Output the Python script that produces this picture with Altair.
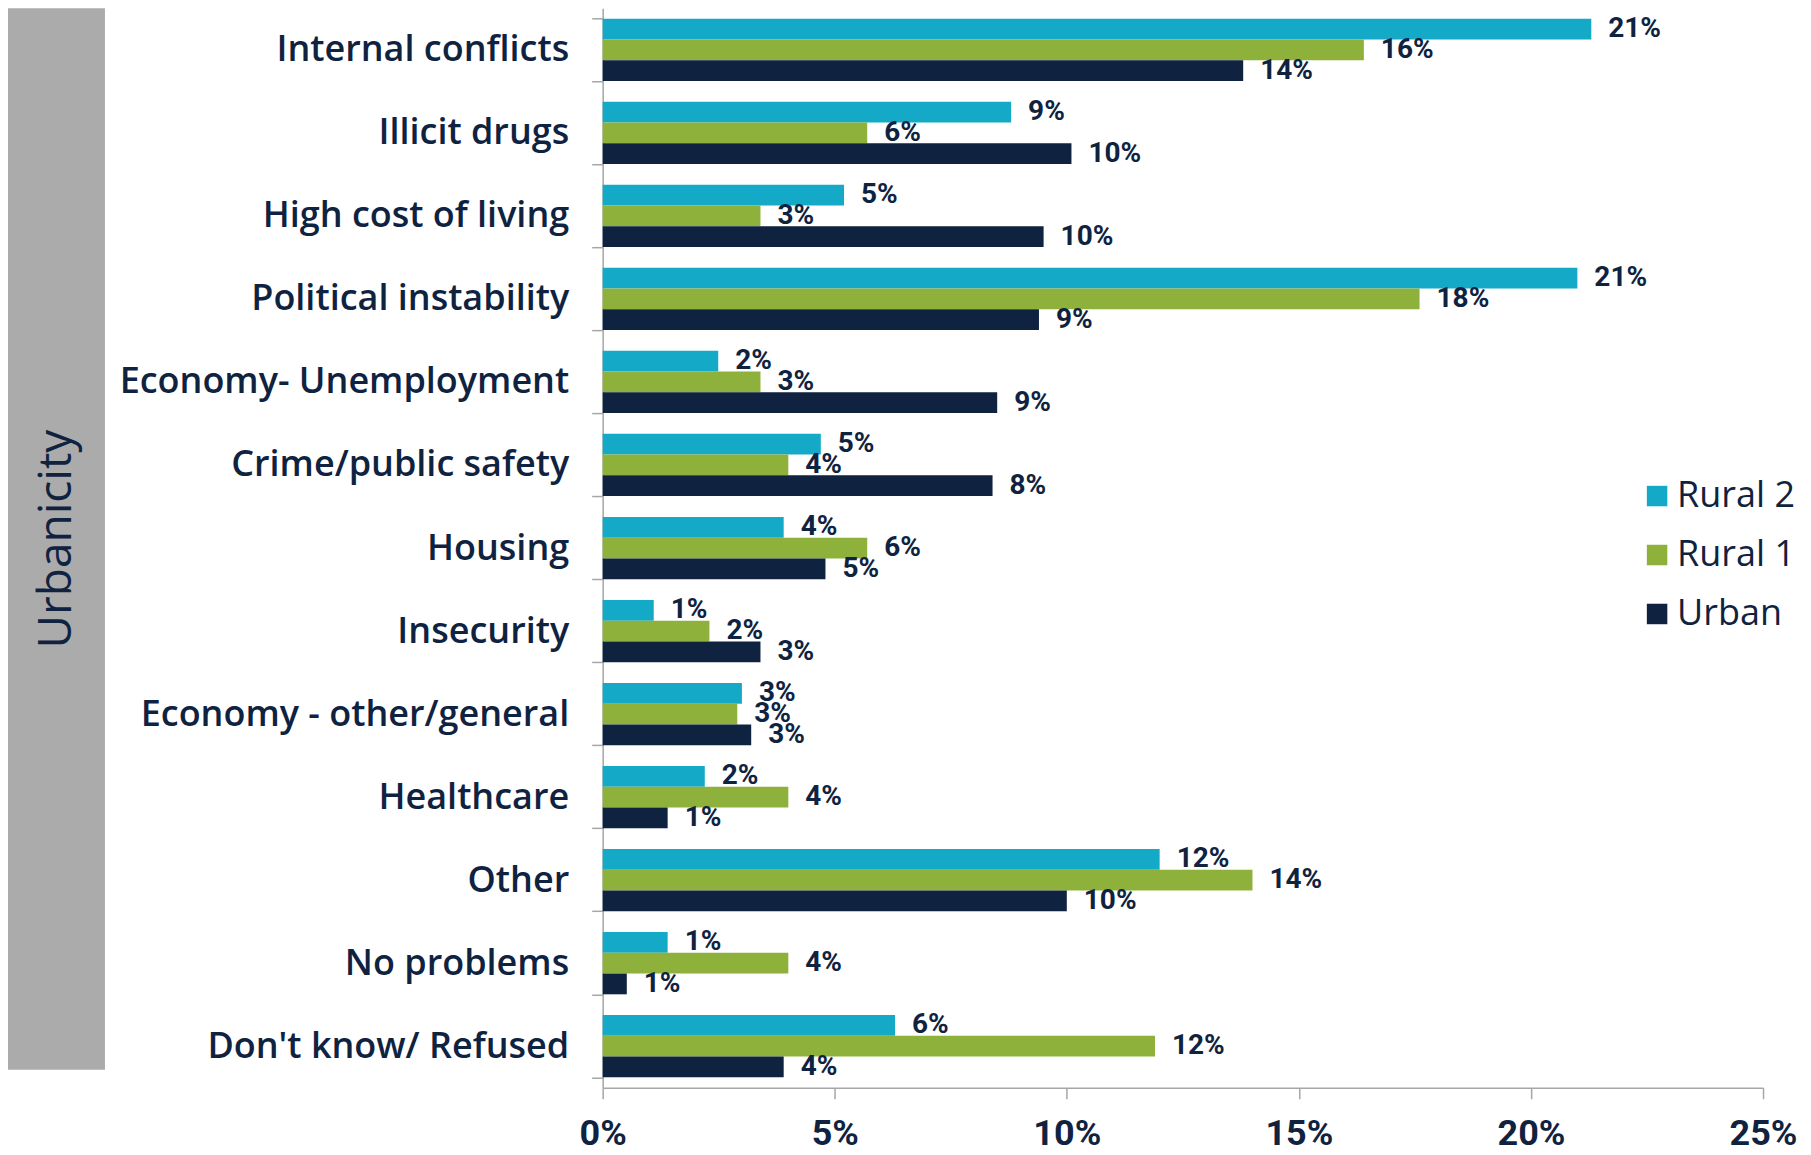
import altair as alt
import pandas as pd

categories = [
    "Internal conflicts", "Illicit drugs", "High cost of living",
    "Political instability", "Economy- Unemployment", "Crime/public safety",
    "Housing", "Insecurity", "Economy - other/general", "Healthcare",
    "Other", "No problems", "Don't know/ Refused",
]
series = ["Rural 2", "Rural 1", "Urban"]
rural2 = [21.3, 8.8, 5.2, 21.0, 2.49, 4.7, 3.9, 1.1, 3.0, 2.2, 12.0, 1.4, 6.3]
rural1 = [16.4, 5.7, 3.4, 17.6, 3.4, 4.0, 5.7, 2.3, 2.9, 4.0, 14.0, 4.0, 11.9]
urban = [13.8, 10.1, 9.5, 9.4, 8.5, 8.4, 4.8, 3.4, 3.2, 1.4, 10.0, 0.52, 3.9]
x_ticks = [0, 0.05, 0.10, 0.15, 0.20, 0.25]
axis_title = "Urbanicity"

colors = ["#14aac7", "#8db13a", "#0f2240"]
navy = "#0f2341"
grey = "#a6a6a6"

rows = []
for i, c in enumerate(categories):
    for s, vals in zip(series, [rural2, rural1, urban]):
        rows.append({"category": c, "series": s, "share": vals[i] / 100})
df = pd.DataFrame(rows)

y_enc = alt.Y(
    "category:N", sort=categories,
    scale=alt.Scale(paddingInner=0.25, paddingOuter=0.125),
    axis=alt.Axis(
        title=None, labelFont="Open Sans", labelFontWeight=600, labelFontSize=36,
        labelColor=navy, labelPadding=23, labelLimit=700, tickBand="extent",
        tickSize=11, tickColor=grey, tickWidth=1.5, domainColor=grey, domainWidth=1.5,
    ),
)
yoff = alt.YOffset("series:N", sort=series, scale=alt.Scale(paddingInner=0, paddingOuter=0))
x_enc = alt.X(
    "share:Q", scale=alt.Scale(domain=[0, 0.25], nice=False),
    axis=alt.Axis(
        values=x_ticks, format=".0%", title=None, grid=False, labelFlush=False,
        labelFont="Roboto", labelFontWeight="bold", labelFontSize=36, labelColor=navy,
        labelPadding=18, tickSize=11, tickColor=grey, tickWidth=1.5,
        domainColor=grey, domainWidth=1.5,
    ),
)
color_enc = alt.Color(
    "series:N", sort=series,
    scale=alt.Scale(domain=series, range=colors),
    legend=alt.Legend(
        title=None, orient="none", legendX=1037, legendY=470, direction="vertical",
        symbolType="square", symbolSize=420, symbolStrokeWidth=0,
        labelFont="Open Sans", labelFontSize=36, labelColor=navy,
        rowPadding=23, labelOffset=2, padding=0,
    ),
)

bars = alt.Chart(df).mark_bar().encode(x=x_enc, y=y_enc, yOffset=yoff, color=color_enc)

labels = alt.Chart(df).mark_text(
    align="left", baseline="middle", dx=17, font="Roboto", fontWeight="bold",
    fontSize=28, color=navy,
).encode(
    x="share:Q",
    y=alt.Y("category:N", sort=categories),
    yOffset=alt.YOffset("series:N", sort=series),
    text=alt.Text("share:Q", format=".0%"),
)

deco = pd.DataFrame({"t": [axis_title]})
box = alt.Chart(deco).mark_rect(color="#ababab").encode(
    x=alt.value(-595), x2=alt.value(-498), y=alt.value(0), y2=alt.value(1062)
)
title = alt.Chart(deco).mark_text(
    angle=270, font="Open Sans", fontSize=46, color=navy, align="center",
    baseline="alphabetic",
).encode(x=alt.value(-532), y=alt.value(531), text="t:N")

chart = alt.layer(box, title, bars, labels).properties(
    width=1161, height=1080,
    autosize=alt.AutoSizeParams(type="none"),
    padding={"left": 595, "top": 0, "right": 40, "bottom": 64},
).configure_view(stroke=None)

chart.save("out.html", embed_options={"renderer": "svg", "actions": False})
